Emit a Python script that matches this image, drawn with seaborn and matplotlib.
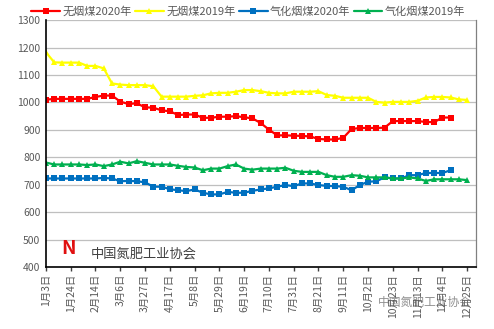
import numpy as np
import pandas as pd
import matplotlib
matplotlib.use("Agg")
import matplotlib.pyplot as plt
import seaborn as sns

tick_labels = ["1月3日", "1月24日", "2月14日", "3月6日", "3月27日", "4月17日", "5月8日",
               "5月29日", "6月19日", "7月10日", "7月31日", "8月21日", "9月11日", "10月2日",
               "10月23日", "11月13日", "12月4日", "12月25日"]

series_names = ["无烟煤2020年", "无烟煤2019年", "气化烟煤2020年", "气化烟煤2019年"]

anthracite_2020 = [1010, 1013, 1013, 1013, 1013, 1013, 1020, 1025, 1025, 1003, 994, 997, 982, 981,
                   971, 968, 954, 956, 956, 944, 944, 948, 948, 950, 946, 942, 925, 901, 880, 880,
                   879, 878, 876, 867, 865, 865, 871, 903, 907, 907, 907, 908, 932, 932, 932, 932,
                   929, 928, 945, 945]
anthracite_2019 = [1183, 1146, 1145, 1145, 1145, 1133, 1133, 1124, 1069, 1065, 1063, 1063, 1063,
                   1059, 1021, 1021, 1021, 1021, 1024, 1026, 1033, 1035, 1035, 1039, 1045, 1045,
                   1041, 1035, 1033, 1033, 1039, 1039, 1039, 1041, 1027, 1024, 1017, 1017, 1017,
                   1017, 1002, 999, 1002, 1002, 1002, 1006, 1018, 1020, 1020, 1018, 1011, 1009]
gas_coal_2020 = [723, 723, 723, 723, 723, 723, 723, 725, 723, 713, 714, 713, 709, 693, 693, 684,
                 680, 677, 683, 671, 665, 665, 674, 671, 671, 678, 683, 687, 693, 699, 695, 705,
                 705, 699, 696, 695, 693, 680, 699, 711, 713, 727, 723, 723, 735, 735, 743, 743,
                 743, 753]
gas_coal_2019 = [781, 774, 774, 774, 774, 772, 774, 768, 774, 784, 778, 786, 780, 774, 774, 774,
                 769, 765, 763, 753, 759, 759, 768, 774, 759, 755, 759, 759, 759, 762, 751, 747,
                 747, 747, 735, 729, 729, 735, 733, 727, 727, 727, 723, 723, 727, 723, 714, 720,
                 720, 720, 720, 717]

colors = ["#FF0000", "#FFFF00", "#0070C0", "#00B050"]
markers = ["s", "^", "s", "^"]

frames = []
for name, vals in zip(series_names, [anthracite_2020, anthracite_2019, gas_coal_2020, gas_coal_2019]):
    frames.append(pd.DataFrame({"week": np.arange(len(vals)), "price": vals, "series": name}))
df = pd.concat(frames, ignore_index=True)

sns.set_theme(style="white")
plt.rcParams["font.family"] = ["Noto Sans CJK SC", "DejaVu Sans"]

fig = plt.figure(figsize=(4.94, 3.29), dpi=100)
ax = fig.add_axes([0.093, 0.188, 0.871, 0.751])

sns.lineplot(data=df, x="week", y="price", hue="series", style="series",
             hue_order=series_names, style_order=series_names,
             palette=dict(zip(series_names, colors)),
             markers=dict(zip(series_names, markers)), dashes=False,
             linewidth=1.6, markersize=4, markeredgewidth=0, ax=ax, legend=True)

ax.set_xlim(0, 52.1)
ax.set_ylim(400, 1300)
ax.set_yticks(range(400, 1301, 100))
ax.set_xticks(range(0, 52, 3))
ax.set_xticklabels(tick_labels, rotation=90, fontsize=7.5, color="#595959")
ax.tick_params(axis="y", labelsize=7.5, labelcolor="#595959", length=0, pad=4)
ax.tick_params(axis="x", length=3, width=1, color="#404040", direction="out", bottom=True, pad=2)
ax.set_xlabel("")
ax.set_ylabel("")
ax.grid(axis="y", color="#BFBFBF", linewidth=0.9)
ax.set_axisbelow(True)
for s in ["left", "bottom"]:
    ax.spines[s].set_color("#000000")
    ax.spines[s].set_linewidth(1.2)
ax.spines["right"].set_color("#808080")
ax.spines["right"].set_linewidth(0.9)
ax.spines["top"].set_visible(False)

handles, labels = ax.get_legend_handles_labels()
ax.legend(handles, labels, loc="center", bbox_to_anchor=(0.47, 1.035), ncol=4,
          frameon=False, fontsize=8, handlelength=2.6, handletextpad=0.2,
          columnspacing=0.3, labelcolor="#595959", borderaxespad=0)

ax.text(0.105, 0.055, "中国氮肥工业协会", transform=ax.transAxes, fontsize=9.5,
        color="#404040", va="center", ha="left")
ax.text(0.035, 0.075, "N", transform=ax.transAxes, fontsize=14, color="#E01010",
        fontstyle="italic", fontweight="bold", va="center", ha="left")
fig.text(0.86, 0.08, "中国氮肥工业协会", fontsize=8.5, color="#606060", alpha=0.7,
         va="center", ha="center")

fig.savefig("out.png", dpi=100)
